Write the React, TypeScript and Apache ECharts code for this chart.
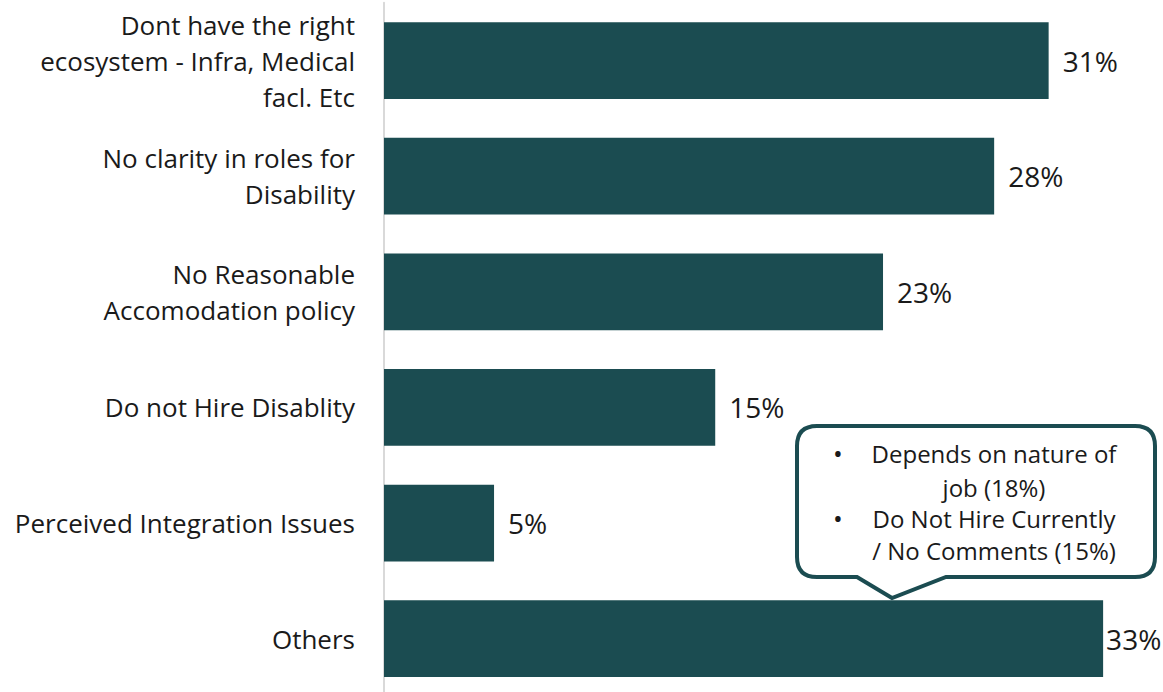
import React, { useEffect, useRef } from "react";
import * as echarts from "echarts";

const categories = [
  "Dont have the right\necosystem - Infra, Medical\nfacl. Etc",
  "No clarity in roles for\nDisability",
  "No Reasonable\nAccomodation policy",
  "Do not Hire Disablity",
  "Perceived Integration Issues",
  "Others",
];
const values = [30.5, 28, 22.9, 15.2, 5.05, 33];
const calloutLines = [
  ["Depends on nature of", "job (18%)"],
  ["Do Not Hire Currently", "/ No Comments (15%)"],
];

const BAR = "#1b4c51";
const FONT = "Open Sans";

const calloutPath =
  "M 817 426 H 1135 Q 1155 426 1155 446 V 557 Q 1155 577 1135 577 H 946 L 892 598 L 857 577 H 817 Q 797 577 797 557 V 446 Q 797 426 817 426 Z";

export default function App() {
  const ref = useRef<HTMLDivElement>(null);
  useEffect(() => {
    if (!ref.current) return;
    echarts.graphic.registerShape("callout", echarts.graphic.extendPath(calloutPath, {}) as any);
    const chart = echarts.init(ref.current, null, { renderer: "svg" });
    const textEls: any[] = [];
    const lineY = [[453, 487], [518, 550]];
    calloutLines.forEach((lines, i) => {
      textEls.push({
        type: "text",
        x: 838,
        y: lineY[i][0],
        style: { text: "•", font: `26px '${FONT}'`, fill: "#1a1a1a", textAlign: "center", textVerticalAlign: "middle" },
      });
      lines.forEach((t, j) => {
        textEls.push({
          type: "text",
          x: 994,
          y: lineY[i][j],
          style: { text: t, font: `24px '${FONT}'`, fill: "#1a1a1a", textAlign: "center", textVerticalAlign: "middle" },
        });
      });
    });
    chart.setOption({
      animation: false,
      backgroundColor: "#ffffff",
      textStyle: { fontFamily: FONT },
      grid: { left: 384, top: 2.7, height: 693.8, width: 762.7 },
      xAxis: {
        type: "value",
        min: 0,
        max: 35,
        show: false,
      },
      yAxis: {
        type: "category",
        data: categories,
        inverse: true,
        axisLine: { show: true, lineStyle: { color: "#d9d9d9", width: 2 } },
        axisTick: { show: false },
        axisLabel: {
          margin: 29,
          fontSize: 26,
          lineHeight: 36,
          color: "#1a1a1a",
          fontFamily: FONT,
          align: "right",
        },
      },
      series: [
        {
          type: "bar",
          data: values.map((v, i) =>
            i === values.length - 1 ? { value: v, label: { distance: 3 } } : v
          ),
          barCategoryGap: "33.6%",
          itemStyle: { color: BAR },
          label: {
            show: true,
            position: "right",
            distance: 14,
            fontSize: 28,
            color: "#1a1a1a",
            fontFamily: FONT,
            formatter: (p: any) => `${Math.round(p.value)}%`,
          },
        },
      ],
      graphic: [
        {
          type: "callout",
          x: 0,
          y: 0,
          z: 100,
          style: { fill: "#ffffff", stroke: BAR, lineWidth: 4 },
        },
        ...textEls.map((e) => ({ ...e, z: 101 })),
      ],
    });
    return () => chart.dispose();
  }, []);
  return (
    <div
      ref={ref}
      style={{ position: "fixed", left: 0, top: 0, width: 1163, height: 700 }}
    />
  );
}
